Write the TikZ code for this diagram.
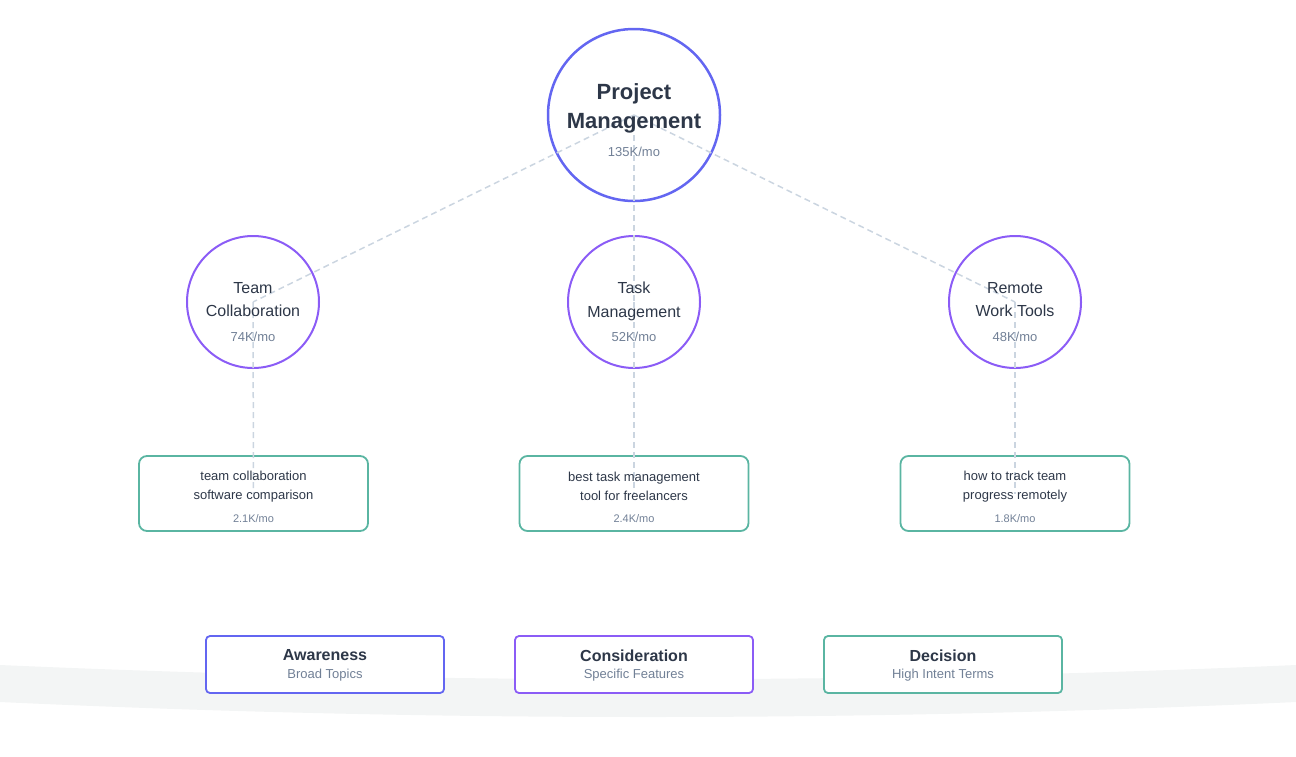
\documentclass[tikz,border=0pt]{standalone}
\usepackage{fontspec}
\setmainfont{Liberation Sans}
\usetikzlibrary{positioning}

\definecolor{hubline}{HTML}{6366F1}
\definecolor{topicline}{HTML}{8B5CF6}
\definecolor{kwline}{HTML}{5AB5A2}
\definecolor{ink}{HTML}{2D3748}
\definecolor{muted}{HTML}{718096}
\definecolor{linkgray}{HTML}{CBD5E0}
\definecolor{band}{HTML}{F3F5F5}

\begin{document}
\begin{tikzpicture}[x=1pt,y=-1pt]
  \tikzstyle{hub}=[circle,draw=hubline,line width=2.5pt,minimum size=172pt,inner sep=0pt]
  \tikzstyle{topic}=[circle,draw=topicline,line width=2pt,minimum size=132pt,inner sep=0pt]
  \tikzstyle{keyword}=[draw=kwline,line width=1.8pt,rounded corners=8pt,minimum width=229pt,minimum height=75pt]
  \tikzstyle{stagebox}=[fill=white,line width=1.8pt,rounded corners=4pt,minimum width=238pt,minimum height=57pt]
  \tikzstyle{link}=[draw=linkgray,line width=1.5pt,dash pattern=on 6pt off 4pt]
  \tikzstyle{title}=[text=ink,align=center,inner sep=0pt]
  \tikzstyle{vol}=[text=muted,inner sep=0pt]

  \useasboundingbox (0,0) rectangle (1296,756);

  % funnel band
  \fill[band] (0,665) .. controls (432,684) and (864,684) .. (1296,665)
    -- (1296,702) .. controls (864,722) and (432,722) .. (0,702) -- cycle;

  % hub and topics
  \node[hub]   (pm)     at (634,115) {};
  \node[topic] (team)   at (253,302) {};
  \node[topic] (task)   at (634,302) {};
  \node[topic] (remote) at (1015,302) {};

  % long-tail keywords
  \node[keyword] (kw_team)   at (253.5,493.5) {};
  \node[keyword] (kw_task)   at (634,493.5)   {};
  \node[keyword] (kw_remote) at (1015,493.5)  {};

  % connectors
  \path[link]
  (pm.center)   edge (team.center)
                edge (task.center)
                edge (remote.center)
  (team.center)   edge (kw_team.center)
  (task.center)   edge (kw_task.center)
  (remote.center) edge (kw_remote.center);

  % texts
  \node[title,font=\bfseries\fontsize{22}{29}\selectfont] (pm_t) at (634,108) {Project\\Management};
  \node[vol,font=\fontsize{13}{15}\selectfont] (pm_v) at (634,151.5) {135K/mo};

  \node[title,font=\fontsize{16}{23.5}\selectfont] (team_t) at (253,299.5) {Team\\Collaboration};
  \node[vol,font=\fontsize{13}{15}\selectfont] (team_v) at (253,337) {74K/mo};
  \node[title,font=\fontsize{16}{23.5}\selectfont] (task_t) at (634,301.5) {Task\\Management};
  \node[vol,font=\fontsize{13}{15}\selectfont] (task_v) at (634,337) {52K/mo};
  \node[title,font=\fontsize{16}{23.5}\selectfont] (remote_t) at (1015,299.5) {Remote\\Work Tools};
  \node[vol,font=\fontsize{13}{15}\selectfont] (remote_v) at (1015,337) {48K/mo};

  \node[title,font=\fontsize{13}{19}\selectfont] (kw_team_t) at (253.5,486.5) {team collaboration\\software comparison};
  \node[vol,font=\fontsize{11}{13}\selectfont] (kw_team_v) at (253.5,518.5) {2.1K/mo};
  \node[title,font=\fontsize{13}{19}\selectfont] (kw_task_t) at (634,486.5) {best task management\\tool for freelancers};
  \node[vol,font=\fontsize{11}{13}\selectfont] (kw_task_v) at (634,518.5) {2.4K/mo};
  \node[title,font=\fontsize{13}{19}\selectfont] (kw_remote_t) at (1015,486.5) {how to track team\\progress remotely};
  \node[vol,font=\fontsize{11}{13}\selectfont] (kw_remote_v) at (1015,518.5) {1.8K/mo};

  % funnel stages
  \node[stagebox,draw=hubline]   (aware)    at (325,664.5) {};
  \node[stagebox,draw=topicline] (consider) at (634,664.5) {};
  \node[stagebox,draw=kwline]    (decide)   at (943,664.5) {};

  \node[title,font=\bfseries\fontsize{16}{19}\selectfont] (aware_t) at (325,655.5) {Awareness};
  \node[vol,font=\fontsize{13}{15}\selectfont] (aware_s) at (325,675.5) {Broad Topics};
  \node[title,font=\bfseries\fontsize{16}{19}\selectfont] (consider_t) at (634,655.5) {Consideration};
  \node[vol,font=\fontsize{13}{15}\selectfont] (consider_s) at (634,675.5) {Specific Features};
  \node[title,font=\bfseries\fontsize{16}{19}\selectfont] (decide_t) at (943,655.5) {Decision};
  \node[vol,font=\fontsize{13}{15}\selectfont] (decide_s) at (943,675.5) {High Intent Terms};
\end{tikzpicture}
\end{document}
